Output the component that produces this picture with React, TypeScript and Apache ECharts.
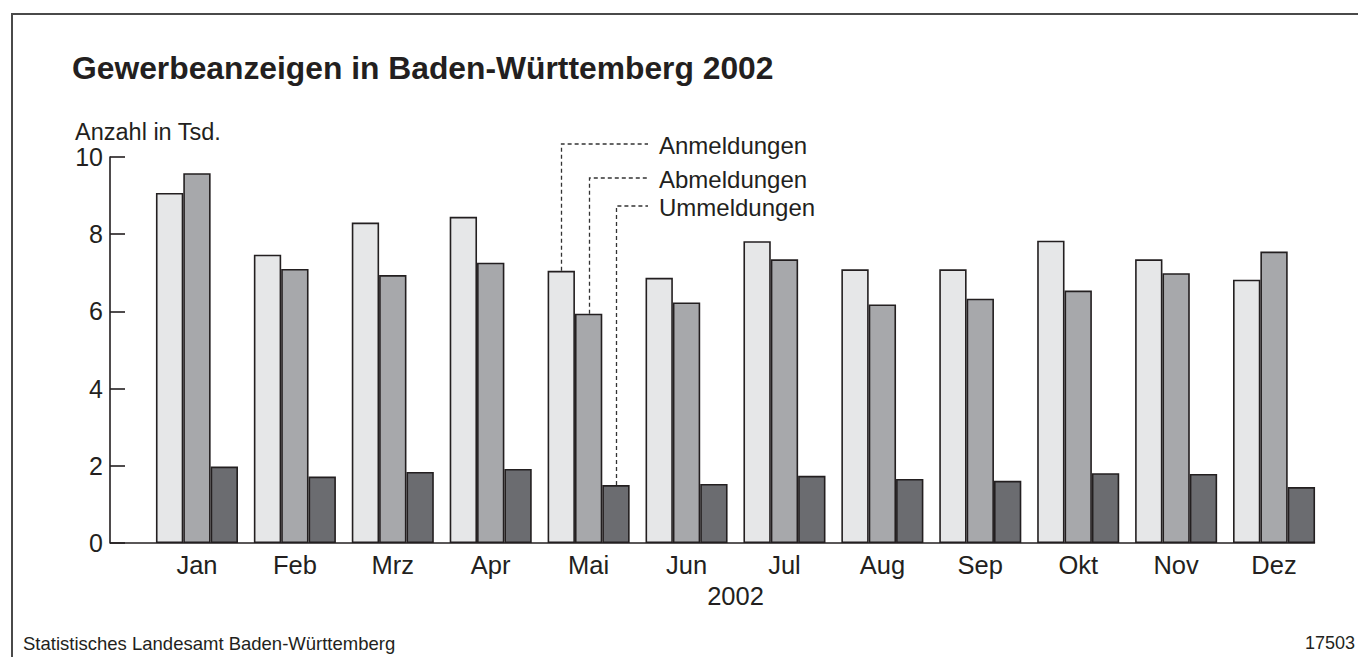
import React, { useEffect, useRef } from "react";
import * as echarts from "echarts";

const months = ["Jan", "Feb", "Mrz", "Apr", "Mai", "Jun", "Jul", "Aug", "Sep", "Okt", "Nov", "Dez"];
const anmeldungen = [9.07, 7.47, 8.3, 8.45, 7.05, 6.87, 7.82, 7.09, 7.09, 7.83, 7.35, 6.82];
const abmeldungen = [9.58, 7.1, 6.94, 7.26, 5.94, 6.23, 7.35, 6.18, 6.33, 6.54, 6.99, 7.55];
const ummeldungen = [1.98, 1.72, 1.84, 1.92, 1.5, 1.53, 1.74, 1.66, 1.61, 1.81, 1.79, 1.45];
const seriesNames = ["Anmeldungen", "Abmeldungen", "Ummeldungen"];
const yTicks = [0, 2, 4, 6, 8, 10];

const FONT = "'Liberation Sans', Arial, Helvetica, sans-serif";
const INK = "#231f20";
const COLORS = ["#e6e7e8", "#a7a8ab", "#6b6c70"];
const CATEGORY_GAP = 0.162;

export default function App() {
  const ref = useRef<HTMLDivElement>(null);

  useEffect(() => {
    document.body.style.margin = "0";
    const el = ref.current!;
    const chart = echarts.init(el, null, { renderer: "svg" });
    const allSeries = [anmeldungen, abmeldungen, ummeldungen];

    const option: any = {
      animation: false,
      backgroundColor: "#ffffff",
      textStyle: { fontFamily: FONT, color: INK },
      grid: { left: 148, right: 35, top: 157, bottom: 114, containLabel: false },
      xAxis: {
        type: "category",
        data: months,
        axisLine: { show: false },
        axisTick: { show: false },
        axisLabel: { fontSize: 25.5, color: INK, fontFamily: FONT, margin: 9 },
        name: "2002",
        nameLocation: "middle",
        nameGap: 40,
        nameTextStyle: { fontSize: 25.5, color: INK, fontFamily: FONT },
      },
      yAxis: {
        type: "value",
        min: yTicks[0],
        max: yTicks[yTicks.length - 1],
        interval: 2,
        offset: 38,
        axisLine: { show: true, lineStyle: { color: INK, width: 1.6 } },
        axisTick: { show: true, inside: true, length: 15, lineStyle: { color: INK, width: 1.6 } },
        axisLabel: { fontSize: 25, color: INK, fontFamily: FONT, margin: 7 },
        splitLine: { show: false },
      },
      series: allSeries.map((d, i) => ({
        name: seriesNames[i],
        type: "bar",
        data: d,
        barGap: "0%",
        barCategoryGap: CATEGORY_GAP * 100 + "%",
        itemStyle: { color: COLORS[i], borderColor: INK, borderWidth: 1.6 },
      })),
    };
    chart.setOption(option);

    // leader lines from axis geometry
    const idx = months.indexOf("Mai");
    const c0 = chart.convertToPixel({ xAxisIndex: 0 }, months[idx]) as number;
    const c1 = chart.convertToPixel({ xAxisIndex: 0 }, months[idx + 1]) as number;
    const band = c1 - c0;
    const bw = (band * (1 - CATEGORY_GAP)) / 3;
    const legendY = [144, 178, 206];
    const legendX = 648;
    const graphics: any[] = [];
    allSeries.forEach((d, i) => {
      const x = Math.round(c0 + (i - 1) * bw) + 0.5;
      const y = chart.convertToPixel({ yAxisIndex: 0 }, d[idx]) as number;
      graphics.push({
        type: "polyline",
        shape: { points: [[x, y], [x, legendY[i]], [legendX, legendY[i]]] },
        style: { stroke: "#333", lineWidth: 1.3, lineDash: [4, 3], fill: null },
        silent: true,
      });
      graphics.push({
        type: "text",
        x: legendX + 11,
        y: legendY[i] + 1,
        style: {
          text: seriesNames[i],
          font: `24px ${FONT}`,
          fill: INK,
          verticalAlign: "middle",
        },
      });
    });

    // baseline from y axis to last bar
    const y0 = chart.convertToPixel({ yAxisIndex: 0 }, 0) as number;
    const firstC = chart.convertToPixel({ xAxisIndex: 0 }, months[0]) as number;
    const lastC = chart.convertToPixel({ xAxisIndex: 0 }, months[months.length - 1]) as number;
    const axisX = firstC - band / 2 - 38;
    graphics.push({
      type: "line",
      shape: { x1: axisX, y1: y0, x2: lastC + 1.5 * bw, y2: y0 },
      style: { stroke: INK, lineWidth: 1.6 },
      z: 10,
    });

    // frame
    graphics.push({
      type: "polyline",
      shape: { points: [[12, 657], [12, 14], [1358, 14]] },
      style: { stroke: "#4a4a4a", lineWidth: 2, fill: null },
    });
    // title & notes
    graphics.push({
      type: "text",
      x: 72,
      y: 68,
      style: { text: "Gewerbeanzeigen in Baden-Württemberg 2002", font: `bold 31.8px ${FONT}`, fill: INK, verticalAlign: "middle" },
    });
    graphics.push({
      type: "text",
      x: 75,
      y: 132,
      style: { text: "Anzahl in Tsd.", font: `23.5px ${FONT}`, fill: INK, verticalAlign: "middle" },
    });
    graphics.push({
      type: "text",
      x: 23,
      y: 643,
      style: { text: "Statistisches Landesamt Baden-Württemberg", font: `18.5px ${FONT}`, fill: INK, verticalAlign: "middle" },
    });
    graphics.push({
      type: "text",
      x: 1355,
      y: 643,
      style: { text: "17503", font: `18px ${FONT}`, fill: INK, align: "right", verticalAlign: "middle" },
    });

    chart.setOption({ graphic: graphics });

    return () => chart.dispose();
  }, []);

  return <div ref={ref} style={{ position: "absolute", left: 0, top: 0, width: 1358, height: 657 }} />;
}
